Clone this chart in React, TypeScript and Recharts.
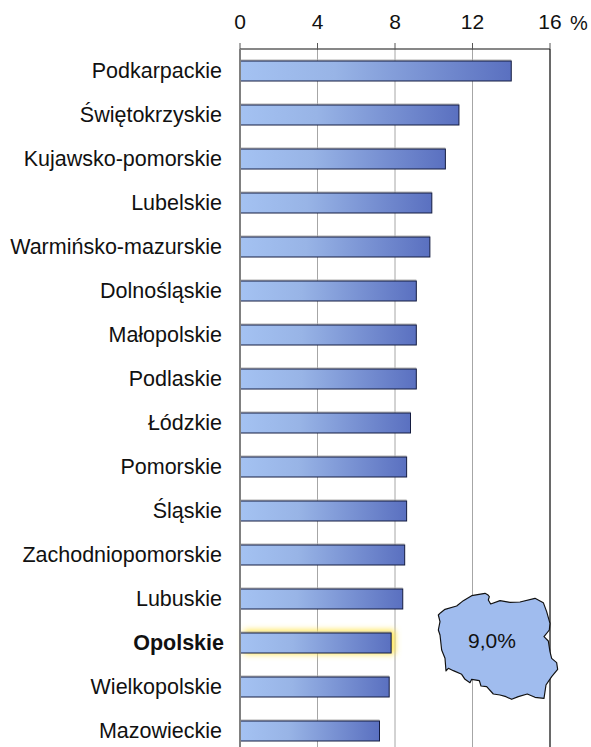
import React from "react";
import { BarChart, Bar, XAxis, YAxis, CartesianGrid, ReferenceLine } from "recharts";

const regions = ["Podkarpackie","Świętokrzyskie","Kujawsko-pomorskie","Lubelskie","Warmińsko-mazurskie","Dolnośląskie","Małopolskie","Podlaskie","Łódzkie","Pomorskie","Śląskie","Zachodniopomorskie","Lubuskie","Opolskie","Wielkopolskie","Mazowieckie"];
const rates = [14.0,11.3,10.6,9.9,9.8,9.1,9.1,9.1,8.8,8.6,8.6,8.5,8.4,7.8,7.7,7.2];
const xTicks = [0,4,8,12,16];
const highlighted = "Opolskie";
const nationalLabel = "9,0%";
const data = regions.map((name, i) => ({ name, rate: rates[i] }));
const font = "'Liberation Sans', Arial, sans-serif";

const polandOutline = "M55,105 L62,98 L75,88 L110,78 L130,62 L155,47 L195,40 L203,44 L208,50 L205,60 L212,72 L240,62 L270,67 L300,66 L345,55 L370,68 L380,95 L390,130 L388,150 L372,170 L385,183 L390,215 L395,235 L410,248 L413,268 L395,290 L378,315 L372,355 L345,352 L322,342 L295,350 L275,358 L258,350 L240,345 L220,342 L200,320 L183,318 L178,302 L155,298 L150,308 L135,298 L125,283 L100,272 L85,265 L78,273 L75,235 L65,210 L60,165 L55,150 L60,125 Z";

const XTick = (p: any) => {
  const v = p.payload.value;
  return (
    <g>
      <text x={p.x} y={p.y - 12} textAnchor="middle" fontFamily={font} fontSize={21} fill="#111">{v}</text>
      {v === 16 && <text x={p.x + 20} y={p.y - 11} fontFamily={font} fontSize={20} fill="#111">%</text>}
    </g>
  );
};

const YTick = (p: any) => {
  const bold = p.payload.value === highlighted;
  return (
    <text x={bold ? 224 : 222} y={p.y + 7} textAnchor="end" fontFamily={font} fontSize={21.5} fontWeight={bold ? 700 : 400} fill="#111">{p.payload.value}</text>
  );
};

const BarShape = (p: any) => {
  const { x, y, width, height, payload } = p;
  return (
    <g>
      {payload.name === highlighted && (
        <rect x={x + 4} y={y - 3} width={width} height={height + 4} fill="#ffe44d" filter="url(#glow)" />
      )}
      <line x1={x} x2={x + width} y1={y - 1} y2={y - 1} stroke="#b0b0b0" strokeWidth={1} />
      <rect x={x} y={y} width={width} height={height} fill="url(#barGrad)" stroke="#141c40" strokeWidth={1} />
    </g>
  );
};

export default function App() {
  return (
    <div style={{ position: "absolute", left: 0, top: 0, width: 591, height: 747, overflow: "hidden", background: "#fff" }}>
      <BarChart width={591} height={753} data={data} layout="vertical" margin={{ top: 0, right: 41, bottom: 0, left: 0 }}>
        <defs>
          <linearGradient id="barGrad" x1="0" y1="0" x2="1" y2="0">
            <stop offset="0" stopColor="#a4c2f2" />
            <stop offset="0.35" stopColor="#98b4e6" />
            <stop offset="1" stopColor="#5a70c0" />
          </linearGradient>
          <filter id="glow" x="-10%" y="-60%" width="120%" height="220%">
            <feGaussianBlur stdDeviation="3" />
          </filter>
        </defs>
        <CartesianGrid horizontal={false} stroke="#a6a6a6" strokeWidth={1} />
        <XAxis xAxisId={0} type="number" orientation="top" domain={[0, 16]} ticks={xTicks} interval={0} height={49}
          axisLine={{ stroke: "#111", strokeWidth: 1.2 }} tickLine={{ stroke: "#555", strokeWidth: 1 }} tickSize={6} tick={<XTick />} />
        <YAxis type="category" dataKey="name" width={240} interval={0} axisLine={{ stroke: "#808080", strokeWidth: 2 }} tickLine={false} tick={<YTick />} />
        <ReferenceLine x={16} stroke="#000" strokeWidth={1} />
        <Bar dataKey="rate" barSize={20} isAnimationActive={false} shape={<BarShape />} />
      </BarChart>
      <svg width={171} height={167} style={{ position: "absolute", left: 420, top: 580 }}>
        <g transform="scale(0.3333)">
          <path d={polandOutline} fill="#a0bcee" stroke="#111" strokeWidth={3.5} strokeLinejoin="round" />
        </g>
        <text x={72} y={68} textAnchor="middle" fontFamily={font} fontSize={21} fill="#111">{nationalLabel}</text>
      </svg>
    </div>
  );
}
